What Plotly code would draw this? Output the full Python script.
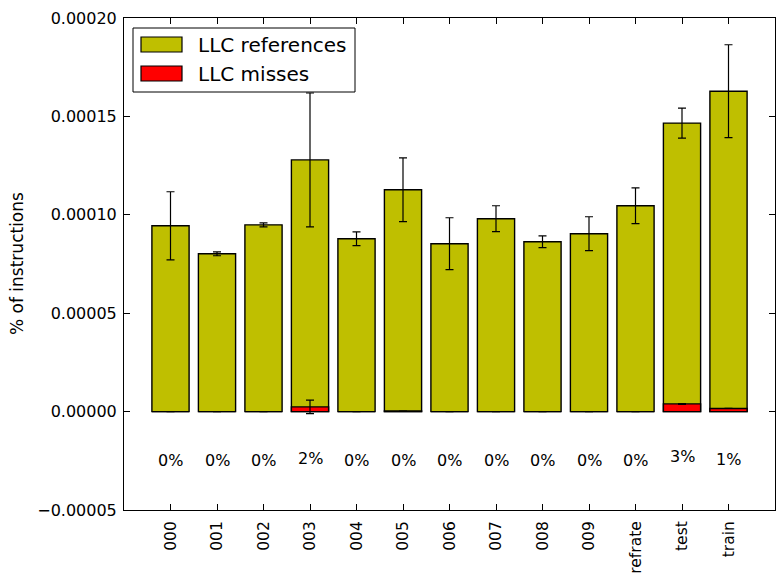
import plotly.graph_objects as go

categories = ["000", "001", "002", "003", "004", "005", "006", "007", "008", "009", "refrate", "test", "train"]
refs = [0.944e-4, 0.802e-4, 0.949e-4, 1.279e-4, 0.878e-4, 1.127e-4, 0.853e-4, 0.980e-4, 0.863e-4, 0.904e-4, 1.046e-4, 1.466e-4, 1.628e-4]
refs_err = [0.173e-4, 0.010e-4, 0.010e-4, 0.340e-4, 0.035e-4, 0.162e-4, 0.132e-4, 0.066e-4, 0.030e-4, 0.086e-4, 0.091e-4, 0.076e-4, 0.236e-4]
misses = [0.0, 0.0, 0.0, 0.024e-4, 0.0, 0.003e-4, 0.0, 0.0, 0.0, 0.0, 0.0, 0.039e-4, 0.016e-4]
misses_err = [0.0, 0.0, 0.0, 0.034e-4, 0.0, 0.0, 0.0, 0.0, 0.0, 0.0, 0.0, 0.002e-4, 0.0]
ytick_vals = [-0.00005, 0.0, 0.00005, 0.0001, 0.00015, 0.0002]
ytick_text = ["\u22120.00005", "0.00000", "0.00005", "0.00010", "0.00015", "0.00020"]
legend_labels = ["LLC references", "LLC misses"]

FONT = "DejaVu Sans"
W, H = 784, 583
ML, MR, MT, MB = 124, 9, 18, 73
PW, PH = W - ML - MR, H - MT - MB
OLIVE = "#bfbf00"
RED = "#ff0000"

def px(x):
    return (x - ML) / PW

def py(y):
    return (H - MB - y) / PH

xs = list(range(len(categories)))

fig = go.Figure()
fig.add_trace(go.Bar(
    x=xs, y=refs, width=0.8, name=legend_labels[0],
    marker=dict(color=OLIVE, line=dict(color="black", width=1.4)),
    error_y=dict(type="data", array=refs_err, color="black", thickness=1.2, width=4),
    showlegend=False,
))
fig.add_trace(go.Bar(
    x=xs, y=misses, width=0.8, name=legend_labels[1],
    marker=dict(color=RED, line=dict(color="black", width=1.4)),
    error_y=dict(type="data", array=misses_err, color="black", thickness=1.2, width=4),
    showlegend=False,
))

annotations = []
for i, (r, m) in enumerate(zip(refs, misses)):
    pct = round(m / r * 100)
    annotations.append(dict(
        x=i, y=-0.000025 + m / 2, xref="x", yref="y",
        text=f"{pct}%", showarrow=False,
        xanchor="center", yanchor="middle",
        font=dict(family=FONT, size=16, color="black"),
    ))

# y-axis title
annotations.append(dict(
    x=0, y=0.5, xref="paper", yref="paper", xshift=17 - ML,
    text="% of instructions", textangle=-90, showarrow=False,
    xanchor="center", yanchor="middle",
    font=dict(family=FONT, size=17, color="black"),
))

# manual legend
shapes = [
    dict(type="rect", xref="paper", yref="paper", x0=px(133), x1=px(355), y0=py(92), y1=py(28),
         fillcolor="white", line=dict(color="black", width=1), layer="above"),
    dict(type="rect", xref="paper", yref="paper", x0=px(141), x1=px(182), y0=py(52), y1=py(37),
         fillcolor=OLIVE, line=dict(color="black", width=1.2), layer="above"),
    dict(type="rect", xref="paper", yref="paper", x0=px(141), x1=px(182), y0=py(81), y1=py(66),
         fillcolor=RED, line=dict(color="black", width=1.2), layer="above"),
]
for lab, yc in zip(legend_labels, [45, 74]):
    annotations.append(dict(
        x=px(196), y=py(yc), xref="paper", yref="paper", text=lab, showarrow=False,
        xanchor="left", yanchor="middle",
        font=dict(family=FONT, size=20, color="black"),
    ))

fig.update_layout(
    width=W, height=H,
    margin=dict(l=ML, r=MR, t=MT, b=MB, autoexpand=False),
    paper_bgcolor="white", plot_bgcolor="white",
    barmode="overlay",
    font=dict(family=FONT, color="black"),
    annotations=annotations, shapes=shapes,
    showlegend=False,
)
fig.update_xaxes(
    range=[-1, 13], tickmode="array", tickvals=xs, ticktext=categories,
    tickangle=-90, ticks="inside", ticklen=6, tickcolor="black", tickwidth=1,
    showline=True, linecolor="black", linewidth=1, mirror="ticks",
    showgrid=False, zeroline=False,
    tickfont=dict(family=FONT, size=15.5, color="black"),
    ticklabelstandoff=4,
)
fig.update_yaxes(
    range=[-0.00005, 0.0002], tickmode="array", tickvals=ytick_vals, ticktext=ytick_text,
    ticks="inside", ticklen=6, tickcolor="black", tickwidth=1,
    showline=True, linecolor="black", linewidth=1, mirror="ticks",
    showgrid=False, zeroline=False,
    tickfont=dict(family=FONT, size=16, color="black"),
    ticklabelstandoff=3,
)

fig.write_html("out.html")
